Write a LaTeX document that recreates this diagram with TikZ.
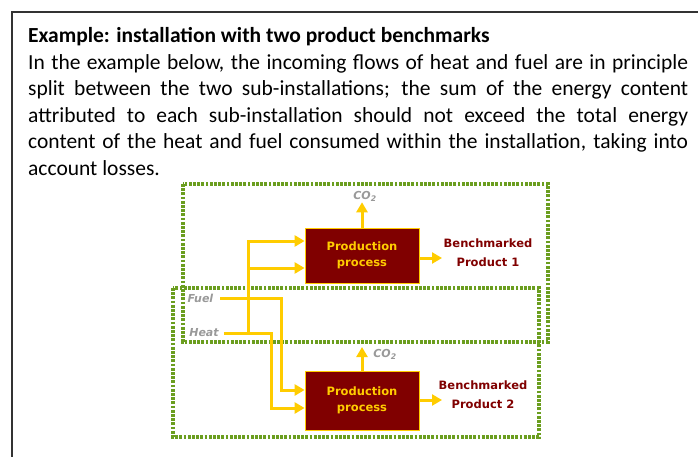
\documentclass[tikz,border=0pt]{standalone}
\usepackage{fontspec}
\setmainfont{Carlito}
\newfontfamily\diagfont{DejaVu Sans}
\usepackage{xcolor}
\usepackage{tikz}
\usetikzlibrary{arrows.meta, positioning, calc}

\definecolor{gold}{RGB}{255,204,0}
\definecolor{maroon}{RGB}{128,0,0}
\definecolor{zonegreen}{RGB}{107,158,31}
\definecolor{labelgray}{RGB}{153,153,153}
\definecolor{framegray}{RGB}{51,51,51}

\begin{document}
\begin{tikzpicture}[
  x=1pt, y=-1pt,
  zone/.style={draw=zonegreen, line width=3.2pt, dash pattern=on 2.8pt off 1.4pt},
  prod/.style={draw=gold, line width=0.8pt, fill=maroon, text=gold, align=center,
               minimum width=114pt, minimum height=#1, inner sep=0pt,
               font=\diagfont\bfseries\fontsize{11.5}{16}\selectfont},
  prod/.default=55pt,
  bench/.style={text=maroon, align=center, inner sep=0pt,
                font=\diagfont\bfseries\fontsize{11.5}{19}\selectfont},
  lbl/.style={text=labelgray, inner sep=1pt,
              font=\diagfont\bfseries\itshape\fontsize{11}{13}\selectfont},
  flow/.style={draw=gold, line width=3pt},
  arr/.style={flow, -{Triangle[length=10pt, width=11pt]}},
]
  \useasboundingbox (0,0) rectangle (698,457);
  \draw[framegray, line width=2pt] (12,457) -- (12,12) -- (698,12);

  % text block
  \node[anchor=base west, text width=660pt, inner sep=0pt, align=justify,
        font=\fontsize{21.5}{26.5}\selectfont] (intro) at (28,43)
  {\hyphenpenalty=10000 {\bfseries Example: installation with two product benchmarks}\\
   In the example below, the incoming flows of heat and fuel are in principle\linebreak
   split between the two sub-installations; the sum of the energy content\linebreak
   attributed to each sub-installation should not exceed the total energy\linebreak
   content of the heat and fuel consumed within the installation, taking into\linebreak
   account losses.};

  % sub-installations
  \draw[zone] (183,184) rectangle (548,342);
  \draw[zone] (173,288) rectangle (539,437);

  % processes
  \node[prod]       (prod1) at (362,255.5) {Production\\process};
  \node[prod=59pt]  (prod2) at (362,400.5) {Production\\process};

  \node[bench] (bench1) at (488,252.5) {Benchmarked\\Product 1};
  \node[bench] (bench2) at (483,394.5) {Benchmarked\\Product 2};

  \node[lbl] (co2a) at (365,196) {CO\textsubscript{2}};
  \node[lbl] (co2b) at (385,354) {CO\textsubscript{2}};

  \node[lbl] (fuel) at (200.5,298) {Fuel};
  \node[lbl] (heat) at (204,333) {Heat};

  % outputs
  \coordinate (out1) at (442,258);
  \coordinate (out2) at (442,400);
  \coordinate (up2)  at (362,347);
  \draw[arr] (prod1.north) -- (co2a.south -| prod1.north);
  \draw[arr] (prod2.north) -- (up2);
  \draw[arr] (prod1.east |- out1) -- (out1);
  \draw[arr] (prod2.east |- out2) -- (out2);

  % inputs
  \coordinate (fuelbend) at (281,390);
  \coordinate (heatbend) at (271,408);
  \coordinate (split)    at (248,333);
  \coordinate (top)      at (248,241);
  \coordinate (mid)      at (248,268);
  \draw[arr, shorten <=6pt] (fuel.east) -| (fuelbend) -- (fuelbend -| prod2.west);
  \draw[arr, shorten <=4pt] (heat.east) -| (heatbend) -- (heatbend -| prod2.west);
  \draw[arr] (split) -- (top) -- (top -| prod1.west);
  \draw[arr] (mid) -- (mid -| prod1.west);
\end{tikzpicture}
\end{document}
